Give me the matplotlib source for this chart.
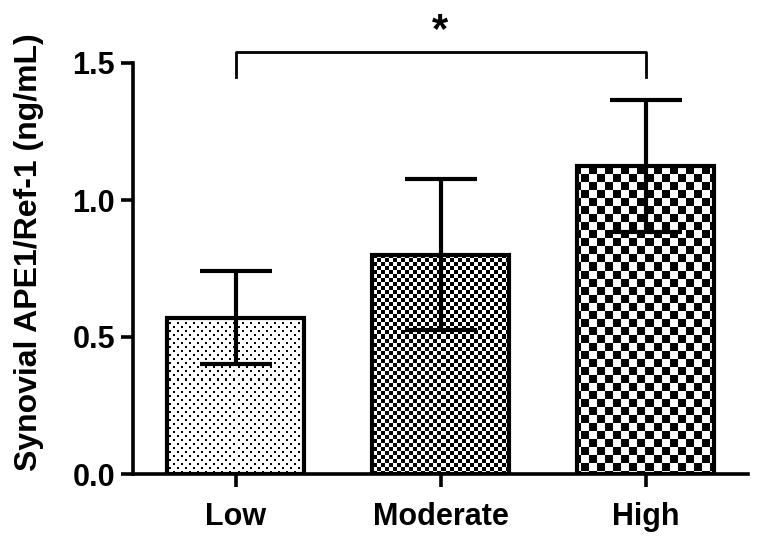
import numpy as np
import matplotlib.pyplot as plt

plt.rcParams['font.family'] = ['Liberation Sans', 'DejaVu Sans']
plt.rcParams['font.weight'] = 'bold'

# data
groups = ['Low', 'Moderate', 'High']
means = [0.57, 0.80, 1.125]
errs = [0.17, 0.275, 0.24]
y_ticks = [0.0, 0.5, 1.0, 1.5]


def pattern(kind, w, h):
    yy, xx = np.mgrid[0:h, 0:w]
    if kind == 'dots':
        # staggered small dots
        row = yy // 4
        on = ((yy % 4) < 2) & (((xx + (row % 2) * 4) % 8) < 2)
    elif kind == 'fine':
        on = ((xx // 4) + (yy // 4)) % 2 == 0
    else:
        on = ((xx // 8) + (yy // 8)) % 2 == 0
    return np.where(on, 0.0, 1.0)


fig = plt.figure(figsize=(7.67, 5.4), dpi=100)
ax = fig.add_axes([133 / 767, 66 / 540, 615 / 767, 411 / 540])

x = np.arange(len(groups))
bars = ax.bar(x, means, width=0.67, color='none', edgecolor='black',
              linewidth=3, zorder=3)
ax.set_xlim(-0.5, 2.5)
ax.set_ylim(0, 1.5)

# fill bars with the black/white patterns
W, H = 615, 411
for b, kind in zip(bars, ['dots', 'fine', 'checker']):
    im = ax.imshow(pattern(kind, W, H), cmap='gray', vmin=0, vmax=1,
                   extent=[-0.5, 2.5, 0, 1.5], aspect='auto',
                   interpolation='nearest', origin='upper', zorder=2)
    im.set_clip_path(b)

ax.errorbar(x, means, yerr=errs, fmt='none', ecolor='black', elinewidth=3,
            capsize=26, capthick=3, zorder=4)

# significance bracket
ax.plot([0, 0, 2, 2], [1.45, 1.54, 1.54, 1.45], color='black', lw=2,
        clip_on=False)
ax.text(1, 1.545, '*', ha='center', va='bottom', fontsize=30, fontweight='bold')

for s in ['top', 'right']:
    ax.spines[s].set_visible(False)
for s in ['left', 'bottom']:
    ax.spines[s].set_linewidth(2.6)
ax.tick_params(axis='y', width=2.6, length=9, pad=4)
ax.tick_params(axis='x', width=2.6, length=9, pad=11)
ax.set_xticks(x)
ax.set_xticklabels(groups, fontsize=22, fontweight='bold')
ax.set_yticks(y_ticks)
ax.set_yticklabels(['%.1f' % v for v in y_ticks], fontsize=22, fontweight='bold')
ax.set_ylabel('Synovial APE1/Ref-1 (ng/mL)', fontsize=23, fontweight='bold')
ax.yaxis.set_label_coords(-0.145, 0.54)

fig.savefig('out.png', dpi=100)
